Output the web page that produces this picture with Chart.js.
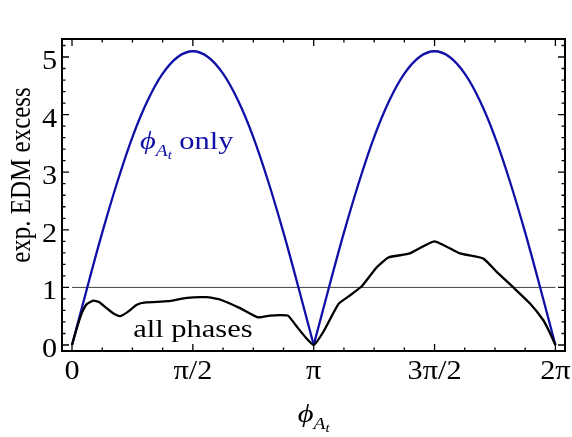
<!DOCTYPE html>
<html>
<head>
<meta charset="utf-8">
<script src="https://cdn.jsdelivr.net/npm/chart.js@4"></script>
<style>
  html, body { margin: 0; padding: 0; background: #fff; }
  canvas { display: block; }
</style>
</head>
<body>
<canvas id="edmChart" width="572" height="437"></canvas>
<script>
// x values are in units of pi
const xTickVals = [0, 0.5, 1, 1.5, 2];
const xTickLabels = ["0", "π/2", "π", "3π/2", "2π"];
const xMinorTicks = [0.125, 0.25, 0.375, 0.625, 0.75, 0.875, 1.125, 1.25, 1.375, 1.625, 1.75, 1.875];
const yTickVals = [0, 1, 2, 3, 4, 5];
const yTickLabels = ["0", "1", "2", "3", "4", "5"];
const yMinorTicks = [0.2, 0.4, 0.6, 0.8, 1.2, 1.4, 1.6, 1.8, 2.2, 2.4, 2.6, 2.8,
  3.2, 3.4, 3.6, 3.8, 4.2, 4.4, 4.6, 4.8, 5.2];

// phi_At only (blue)
const blueX = [0, 0.0625, 0.125, 0.1875, 0.25, 0.3125, 0.375, 0.4375, 0.5,
  0.5625, 0.625, 0.6875, 0.75, 0.8125, 0.875, 0.9375, 1,
  1.0625, 1.125, 1.1875, 1.25, 1.3125, 1.375, 1.4375, 1.5,
  1.5625, 1.625, 1.6875, 1.75, 1.8125, 1.875, 1.9375, 2];
const blueY = [0, 0.99, 1.95, 2.83, 3.61, 4.24, 4.71, 5.00, 5.10,
  5.00, 4.71, 4.24, 3.61, 2.83, 1.95, 0.99, 0,
  0.99, 1.95, 2.83, 3.61, 4.24, 4.71, 5.00, 5.10,
  5.00, 4.71, 4.24, 3.61, 2.83, 1.95, 0.99, 0];

// all phases (black)
const blackX = [0, 0.019, 0.040, 0.061, 0.088, 0.110, 0.143, 0.170, 0.199, 0.232, 0.268, 0.306,
  0.397, 0.475, 0.557, 0.612, 0.695, 0.770, 0.819, 0.860, 0.894, 0.930, 0.965, 1,
  1.040, 1.102, 1.143, 1.199, 1.261, 1.309, 1.398, 1.499, 1.605, 1.702, 1.757,
  1.826, 1.895, 1.950, 1.975, 2];
const blackY = [0, 0.28, 0.55, 0.71, 0.77, 0.75, 0.64, 0.55, 0.50, 0.58, 0.70, 0.74,
  0.76, 0.82, 0.83, 0.79, 0.64, 0.48, 0.51, 0.52, 0.51, 0.32, 0.14, 0,
  0.23, 0.71, 0.84, 1.02, 1.35, 1.52, 1.59, 1.80, 1.59, 1.50, 1.27,
  1.00, 0.72, 0.43, 0.23, 0];

// reference line at 1
const refX = [0, 2];
const refY = [1, 1];

const BLUE = "#1010a8";
const SERIF = "'Liberation Serif', 'Times New Roman', serif";
const STRETCH = 1.22;
const TICK_STRETCH = 1.08;

function toPoints(xs, ys) {
  return xs.map((x, i) => ({ x: x, y: ys[i] }));
}

const bluePts = toPoints(blueX, blueY);
const blackPts = toPoints(blackX, blackY);

// draw text stretched horizontally like the original figure
function stretchText(ctx, text, x, y, font, align, color, sx) {
  ctx.save();
  ctx.translate(x, y);
  ctx.scale(sx || STRETCH, 1);
  ctx.font = font;
  ctx.fillStyle = color || "#000";
  ctx.textAlign = align || "left";
  ctx.textBaseline = "alphabetic";
  ctx.fillText(text, 0, 0);
  ctx.restore();
}

function textWidth(ctx, text, font) {
  ctx.save();
  ctx.font = font;
  const w = ctx.measureText(text).width * STRETCH;
  ctx.restore();
  return w;
}

// phi with subscript A with subscript t, then optional trailing text
function drawPhiLabel(ctx, x, y, color, tail, align) {
  const fMain = "italic 25px " + SERIF;
  const fSub = "italic 16px " + SERIF;
  const fSub2 = "italic 12px " + SERIF;
  const fTail = "25px " + SERIF;
  const wPhi = textWidth(ctx, "ϕ", fMain);
  const wA = textWidth(ctx, "A", fSub);
  const wT = textWidth(ctx, "t", fSub2);
  const wTail = tail ? textWidth(ctx, tail, fTail) : 0;
  const total = wPhi + wA + wT + wTail;
  let cx = align === "center" ? x - total / 2 : x;
  stretchText(ctx, "ϕ", cx, y, fMain, "left", color);
  cx += wPhi;
  stretchText(ctx, "A", cx, y + 7, fSub, "left", color);
  cx += wA;
  stretchText(ctx, "t", cx, y + 10, fSub2, "left", color);
  cx += wT;
  if (tail) stretchText(ctx, tail, cx, y, fTail, "left", color);
}

const framePlugin = {
  id: "frameAndText",
  afterDraw(chart) {
    const ctx = chart.ctx;
    const a = chart.chartArea;
    const xs = chart.scales.x;
    const ys = chart.scales.y;

    // frame
    ctx.save();
    ctx.strokeStyle = "#000";
    ctx.lineWidth = 2;
    ctx.strokeRect(a.left, a.top, a.right - a.left, a.bottom - a.top);

    // inward ticks on all four sides
    ctx.lineWidth = 1.3;
    ctx.beginPath();
    const xTick = (v, len) => {
      const px = xs.getPixelForValue(v);
      ctx.moveTo(px, a.bottom); ctx.lineTo(px, a.bottom - len);
      ctx.moveTo(px, a.top); ctx.lineTo(px, a.top + len);
    };
    const yTick = (v, len) => {
      const py = ys.getPixelForValue(v);
      ctx.moveTo(a.left, py); ctx.lineTo(a.left + len, py);
      ctx.moveTo(a.right, py); ctx.lineTo(a.right - len, py);
    };
    xTickVals.forEach(v => xTick(v, 7));
    xMinorTicks.forEach(v => xTick(v, 3.5));
    yTickVals.forEach(v => yTick(v, 7));
    yMinorTicks.forEach(v => yTick(v, 3.5));
    ctx.stroke();
    ctx.restore();

    // tick labels
    const tickFont = "28px " + SERIF;
    xTickVals.forEach((v, i) => {
      stretchText(ctx, xTickLabels[i], xs.getPixelForValue(v), a.bottom + 28, tickFont, "center", "#000", TICK_STRETCH);
    });
    yTickVals.forEach((v, i) => {
      stretchText(ctx, yTickLabels[i], a.left - 5, ys.getPixelForValue(v) + 12, tickFont, "right", "#000", TICK_STRETCH);
    });

    // y axis title (rotated)
    ctx.save();
    ctx.translate(30, (a.top + a.bottom) / 2 - 20);
    ctx.scale(STRETCH, 1);
    ctx.rotate(-Math.PI / 2);
    ctx.font = "25px " + SERIF;
    ctx.fillStyle = "#000";
    ctx.textAlign = "center";
    ctx.textBaseline = "alphabetic";
    ctx.fillText("exp. EDM excess", 0, 0);
    ctx.restore();

    // x axis title
    drawPhiLabel(ctx, xs.getPixelForValue(1), a.bottom + 71, "#000", null, "center");

    // curve labels
    drawPhiLabel(ctx, xs.getPixelForValue(0.281), ys.getPixelForValue(3.40), BLUE, " only", "left");
    stretchText(ctx, "all phases", xs.getPixelForValue(0.5), ys.getPixelForValue(0.144), "25px " + SERIF, "center");
  }
};

new Chart(document.getElementById("edmChart"), {
  type: "line",
  data: {
    datasets: [
      {
        label: "all phases",
        data: blackPts,
        borderColor: "#000",
        borderWidth: 2.3,
        pointRadius: 0,
        tension: 0.15,
        fill: false
      },
      {
        label: "phi only (0 to pi)",
        data: bluePts.slice(0, 17),
        borderColor: BLUE,
        borderWidth: 2.3,
        pointRadius: 0,
        cubicInterpolationMode: "monotone",
        fill: false
      },
      {
        label: "phi only (pi to 2pi)",
        data: bluePts.slice(16),
        borderColor: BLUE,
        borderWidth: 2.3,
        pointRadius: 0,
        cubicInterpolationMode: "monotone",
        fill: false
      },
      {
        label: "reference",
        data: toPoints(refX, refY),
        borderColor: "#444",
        borderWidth: 1,
        pointRadius: 0,
        fill: false
      }
    ]
  },
  options: {
    responsive: false,
    animation: false,
    devicePixelRatio: 1,
    layout: { padding: { left: 62, right: 7, top: 39, bottom: 86 } },
    plugins: {
      legend: { display: false },
      tooltip: { enabled: false }
    },
    scales: {
      x: {
        type: "linear",
        display: false,
        min: -0.0414,
        max: 2.0397
      },
      y: {
        type: "linear",
        display: false,
        min: -0.104,
        max: 5.3125
      }
    }
  },
  plugins: [framePlugin]
});
</script>
</body>
</html>
